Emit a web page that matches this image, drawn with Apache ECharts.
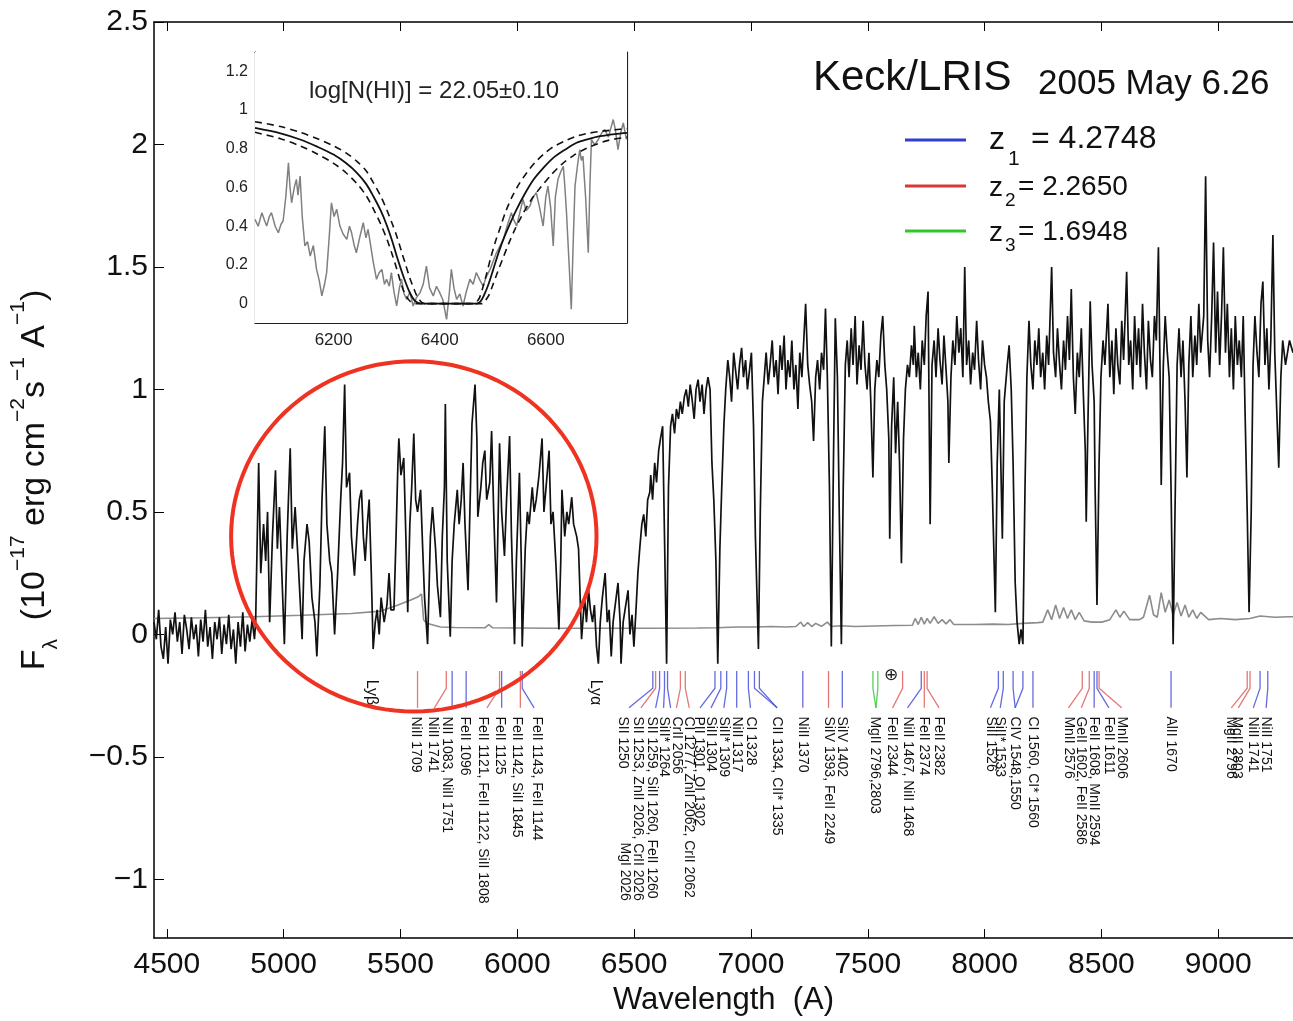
<!DOCTYPE html>
<html>
<head>
<meta charset="utf-8">
<title>Keck/LRIS spectrum</title>
<script src="https://cdn.jsdelivr.net/npm/echarts@6.0.0/dist/echarts.min.js"></script>
<style>
  html, body { margin: 0; padding: 0; background: #fff; }
  #chart { width: 1293px; height: 1021px; }
</style>
</head>
<body>
<div id="chart"></div>
<script>
// ---- axis ticks ----
const xTicks = [4500, 5000, 5500, 6000, 6500, 7000, 7500, 8000, 8500, 9000];
const yTicks = [-1, -0.5, 0, 0.5, 1, 1.5, 2, 2.5];
const insetXTicks = [6200, 6400, 6600];
const insetYTicks = [0, 0.2, 0.4, 0.6, 0.8, 1, 1.2];

// ---- main spectrum [wavelength A, flux] ----
const spectrum = [
  [4445,0.05],[4455,-0.02],[4465,0.10],[4475,-0.05],[4485,-0.10],[4495,0.03],[4505,-0.12],[4515,0.06],
  [4525,0.00],[4535,0.09],[4545,-0.03],[4555,0.05],[4565,-0.08],[4575,0.08],[4585,0.02],[4595,-0.06],
  [4605,0.07],[4615,-0.02],[4625,0.04],[4635,-0.09],[4645,0.06],[4655,-0.03],[4665,0.10],[4675,-0.05],
  [4685,0.03],[4695,-0.10],[4705,0.05],[4715,-0.02],[4725,0.07],[4735,-0.08],[4745,0.04],[4755,-0.04],
  [4765,0.08],[4775,-0.06],[4785,0.02],[4795,-0.12],[4805,0.05],[4815,-0.05],[4825,0.09],[4835,-0.07],
  [4845,0.04],[4855,-0.03],[4865,0.06],[4875,-0.02],
  [4880,0.05],[4893,0.70],[4902,0.25],[4914,0.45],[4923,0.30],[4931,0.50],[4940,0.05],[4952,0.40],
  [4965,0.67],[4973,0.35],[4982,0.52],[4994,0.20],[5003,-0.04],[5015,0.40],[5028,0.76],[5037,0.35],
  [5049,0.52],[5062,0.30],[5070,0.15],[5079,-0.02],[5087,0.30],[5100,0.45],[5109,0.38],[5121,0.15],
  [5134,0.05],[5142,-0.09],[5155,0.20],[5164,0.55],[5176,0.85],[5185,0.45],[5197,0.30],[5206,0.25],
  [5218,0.00],[5231,0.25],[5244,0.55],[5252,0.70],[5261,1.02],[5269,0.60],[5282,0.66],[5290,0.40],
  [5303,0.24],[5316,0.45],[5324,0.55],[5333,0.59],[5341,0.40],[5349,0.30],[5358,0.45],[5366,0.55],
  [5375,0.25],[5383,-0.06],[5392,0.05],[5400,0.10],[5409,0.00],[5417,0.15],[5430,0.05],[5442,0.12],
  [5451,0.25],[5459,0.10],[5472,0.10],[5481,0.40],[5489,0.70],[5493,0.80],[5502,0.65],[5514,0.72],
  [5523,0.40],[5531,0.09],[5540,0.45],[5548,0.60],[5557,0.82],[5565,0.55],[5573,0.50],[5586,0.59],
  [5595,0.35],[5603,0.15],[5616,-0.04],[5628,0.40],[5637,0.52],[5650,0.35],[5658,0.20],[5671,0.07],
  [5679,0.40],[5688,0.60],[5692,0.94],[5700,0.30],[5713,-0.01],[5721,0.30],[5730,0.45],[5743,0.59],
  [5751,0.45],[5760,0.55],[5768,0.70],[5776,0.45],[5789,0.18],[5797,0.50],[5806,0.86],[5819,1.02],
  [5827,0.80],[5831,0.48],[5844,0.60],[5852,0.70],[5861,0.75],[5869,0.55],[5882,0.62],[5890,0.83],
  [5899,0.50],[5911,0.13],[5924,0.78],[5933,0.50],[5945,0.32],[5954,0.55],[5967,0.81],[5975,0.40],
  [5988,-0.04],[5996,0.30],[6009,0.66],[6017,0.30],[6021,-0.05],[6034,0.35],[6043,0.50],[6051,0.45],
  [6064,0.60],[6072,0.50],[6081,0.55],[6093,0.65],[6106,0.80],[6114,0.50],[6123,0.60],[6136,0.75],
  [6144,0.45],[6153,0.50],[6165,0.29],[6178,0.02],[6186,0.30],[6191,0.59],[6203,0.40],[6212,0.50],
  [6220,0.45],[6233,0.56],[6241,0.45],[6254,0.40],[6262,0.35],[6275,-0.02],[6288,0.15],[6296,0.05],
  [6305,0.18],[6313,0.10],[6322,0.05],[6330,0.12],[6339,-0.05],[6347,-0.12],[6355,0.05],[6364,0.15],
  [6376,0.25],[6385,0.05],[6393,0.10],[6402,-0.09],[6410,0.05],[6423,0.15],[6431,0.21],[6440,0.05],
  [6444,-0.12],[6453,0.05],[6461,0.10],[6474,0.18],[6482,0.00],[6491,0.08],[6499,-0.05],[6508,0.10],
  [6516,0.25],[6524,0.35],[6533,0.45],[6541,0.49],[6550,0.40],[6558,0.55],[6567,0.58],[6571,0.65],
  [6579,0.55],[6588,0.70],[6596,0.62],[6605,0.75],[6613,0.80],[6622,0.85],[6630,0.40],[6639,-0.12],
  [6647,0.60],[6656,0.85],[6664,0.90],[6673,0.82],[6681,0.92],[6690,0.88],[6698,0.95],[6706,0.90],
  [6715,0.97],[6723,1.00],[6732,0.93],[6740,1.02],[6748,0.96],[6757,0.88],[6765,1.00],[6774,1.04],
  [6782,0.95],[6791,1.02],[6799,0.90],[6808,1.00],[6816,1.05],[6825,1.00],[6833,0.70],[6841,0.55],
  [6850,0.30],[6858,-0.12],[6867,0.35],[6875,0.60],[6884,0.85],[6892,1.00],[6901,1.12],[6909,1.05],
  [6917,0.95],[6926,1.15],[6934,1.08],[6943,1.00],[6951,1.10],[6960,1.17],[6968,1.05],[6977,1.12],
  [6985,1.00],[6994,1.08],[7002,1.15],[7011,0.85],[7019,0.40],[7032,-0.06],[7040,0.50],[7049,0.95],
  [7057,1.05],[7065,1.15],[7074,1.02],[7082,1.10],[7091,1.20],[7099,1.05],[7108,1.12],[7116,0.98],
  [7125,1.18],[7133,1.08],[7142,1.22],[7150,1.00],[7158,1.12],[7167,1.05],[7175,1.20],[7184,1.00],
  [7192,1.10],[7201,0.92],[7209,1.15],[7218,1.05],[7226,1.20],[7234,1.35],[7243,1.10],[7251,1.02],
  [7260,0.95],[7268,0.79],[7277,1.05],[7285,1.12],[7294,1.00],[7302,1.15],[7311,1.08],[7319,1.33],
  [7327,1.05],[7336,0.60],[7344,-0.05],[7353,0.70],[7361,1.29],[7370,1.05],[7378,0.50],[7387,-0.04],
  [7395,0.60],[7404,1.10],[7412,1.20],[7420,1.05],[7429,1.25],[7437,1.10],[7446,1.30],[7454,1.02],
  [7463,1.18],[7471,1.08],[7480,1.28],[7488,1.10],[7497,1.00],[7505,1.15],[7513,0.95],[7522,0.64],
  [7530,1.00],[7539,1.12],[7547,1.05],[7556,1.22],[7564,1.30],[7573,1.10],[7581,1.00],[7590,0.80],
  [7594,0.39],[7602,0.85],[7611,1.05],[7619,0.74],[7628,0.95],[7636,0.70],[7644,0.29],[7653,0.80],
  [7661,1.00],[7670,1.10],[7678,1.05],[7687,1.18],[7695,1.10],[7699,1.26],[7708,1.05],[7716,1.15],
  [7725,1.00],[7733,1.20],[7742,1.10],[7750,1.30],[7758,1.40],[7767,0.45],[7775,1.10],[7784,1.20],
  [7792,1.05],[7801,1.25],[7809,1.12],[7818,1.02],[7826,1.22],[7835,1.08],[7843,0.95],[7847,0.70],
  [7856,1.05],[7864,1.20],[7873,1.10],[7881,1.30],[7890,1.15],[7898,1.25],[7907,1.05],[7915,1.50],
  [7923,1.10],[7932,1.20],[7940,1.02],[7949,1.15],[7957,1.08],[7966,1.28],[7974,1.12],[7983,1.00],
  [7991,1.20],[8000,1.10],[8008,1.05],[8016,0.95],[8025,0.87],[8033,0.60],[8046,0.09],[8054,0.70],
  [8063,1.00],[8076,0.39],[8084,0.95],[8097,1.10],[8105,1.18],[8114,1.00],[8122,0.70],[8131,0.21],
  [8139,0.05],[8148,-0.04],[8156,0.02],[8164,-0.04],[8173,0.60],[8181,1.05],[8190,1.28],[8198,1.10],
  [8207,1.00],[8215,1.20],[8224,1.10],[8232,1.25],[8240,1.05],[8249,1.15],[8257,1.00],[8266,1.22],
  [8274,1.10],[8287,1.50],[8295,1.15],[8304,1.05],[8312,1.25],[8321,1.10],[8329,1.00],[8338,1.20],
  [8346,1.08],[8355,1.30],[8363,1.12],[8371,1.41],[8380,1.05],[8388,0.90],[8397,1.15],[8405,1.05],
  [8414,1.25],[8422,1.00],[8431,0.75],[8435,0.46],[8443,0.90],[8452,1.36],[8460,1.10],[8469,0.95],
  [8473,0.60],[8481,0.12],[8490,0.70],[8498,1.05],[8507,1.20],[8515,1.10],[8528,1.35],[8536,1.05],
  [8545,1.20],[8553,0.98],[8562,1.25],[8570,1.10],[8579,1.02],[8587,1.28],[8595,1.12],[8608,1.48],
  [8617,1.10],[8625,1.20],[8634,1.00],[8642,1.30],[8651,1.10],[8659,1.25],[8667,1.05],[8676,1.35],
  [8684,1.15],[8693,1.00],[8701,1.28],[8710,1.12],[8718,1.05],[8727,1.30],[8735,1.20],[8744,1.58],
  [8752,1.00],[8756,0.61],[8765,1.10],[8773,1.30],[8782,1.15],[8790,1.05],[8798,0.60],[8807,-0.04],
  [8815,0.50],[8824,1.10],[8832,1.25],[8841,1.05],[8849,1.20],[8858,0.95],[8866,0.64],[8874,1.10],
  [8883,1.30],[8891,1.05],[8900,1.22],[8908,1.10],[8917,1.35],[8925,1.15],[8938,1.30],[8946,1.87],
  [8955,1.20],[8963,1.05],[8972,1.30],[8980,1.60],[8989,1.15],[8997,1.40],[9006,1.10],[9014,1.30],
  [9022,1.58],[9031,1.15],[9039,1.35],[9048,1.05],[9056,1.25],[9065,1.00],[9073,1.30],[9082,1.10],
  [9090,1.20],[9099,1.05],[9107,1.30],[9115,0.90],[9124,0.50],[9132,0.09],[9141,0.49],[9149,1.10],
  [9157,1.30],[9166,1.15],[9174,1.05],[9183,1.35],[9191,1.44],[9200,1.10],[9208,1.25],[9217,1.00],
  [9225,1.20],[9234,1.63],[9242,1.15],[9251,0.90],[9259,0.68],[9268,1.05],[9276,1.20],[9288,1.10],
  [9305,1.20],[9320,1.15]
];

// ---- error spectrum (grey) ----
const errorSpec = [
  [4445,0.065],[4656,0.068],[4868,0.072],[5079,0.078],[5290,0.085],[5417,0.095],[5489,0.12],[5544,0.14],
  [5578,0.155],[5590,0.165],[5599,0.06],[5612,0.045],[5671,0.03],[5734,0.028],[5861,0.027],[5878,0.04],
  [5895,0.027],[6136,0.025],[6347,0.025],[6558,0.025],[6770,0.026],[6854,0.027],[6939,0.03],[7023,0.03],
  [7087,0.032],[7150,0.03],[7192,0.032],[7213,0.05],[7226,0.032],[7243,0.048],[7260,0.032],[7277,0.045],
  [7302,0.033],[7327,0.05],[7344,0.032],[7383,0.035],[7446,0.032],[7530,0.034],[7615,0.036],[7691,0.037],
  [7703,0.065],[7716,0.04],[7729,0.07],[7742,0.042],[7754,0.065],[7767,0.045],[7784,0.072],[7801,0.045],
  [7818,0.06],[7835,0.043],[7852,0.06],[7868,0.04],[7953,0.04],[8038,0.042],[8101,0.04],[8164,0.045],
  [8228,0.048],[8249,0.05],[8270,0.10],[8287,0.06],[8304,0.12],[8321,0.065],[8338,0.11],[8355,0.065],
  [8371,0.10],[8388,0.06],[8405,0.09],[8426,0.055],[8460,0.05],[8502,0.05],[8536,0.06],[8562,0.10],
  [8579,0.07],[8596,0.095],[8621,0.06],[8663,0.06],[8680,0.07],[8706,0.16],[8723,0.08],[8739,0.07],
  [8756,0.17],[8773,0.09],[8790,0.14],[8807,0.08],[8824,0.13],[8841,0.075],[8858,0.12],[8874,0.07],
  [8891,0.10],[8908,0.065],[8925,0.09],[8959,0.06],[9010,0.065],[9073,0.06],[9136,0.065],[9179,0.075],
  [9242,0.07],[9305,0.072],[9320,0.072]
];

// ---- absorption line markers: top wavelength, end wavelength, colour ----
const markTop = [5573,5696,5721,5781,5924,5933,6013,6021,
  6580,6592,6609,6630,6643,6698,6719,6846,6871,6896,6939,6989,7015,7036,
  7222,7332,7391,7522,7543,7649,7729,7742,7754,
  8059,8080,8122,8164,8207,
  8418,8448,8469,8481,8490,
  8798,
  9124,9136,9179,9212];
const markEnd = [5573,5645,5721,5781,5870,5933,6013,6072,
  6478,6529,6592,6626,6656,6681,6736,6782,6829,6884,6939,6998,7112,7112,
  7222,7332,7391,7535,7535,7606,7670,7742,7805,
  8025,8067,8131,8131,8207,
  8359,8414,8469,8532,8587,
  8798,
  9056,9086,9150,9205];
const markColor = ['r','r','b','b','r','b','r','b',
  'b','r','b','b','b','r','r','b','b','b','b','b','b','b',
  'b','r','b','g','g','r','b','r','r',
  'b','b','b','b','b',
  'r','r','b','b','r',
  'b',
  'r','r','b','b'];

// ---- line identifications ----
const markLabelWave = [5565,5637,5700,5776,5852,5924,6000,6085,
  6453,6516,6575,6626,6681,6736,6778,6829,6884,6939,6998,7112,
  7222,7332,7391,7530,7602,7670,7742,7805,
  8025,8067,8131,8207,
  8359,8414,8469,8532,8587,
  8798,
  9052,9081,9150,9205];
const markLabelText = ['NiII 1709','NiII 1741','NII 1083, NiII 1751','FeII 1096',
  'FeII 1121, FeII 1122, SiII 1808','FeII 1125','FeII 1142, SiII 1845','FeII 1143, FeII 1144',
  'SII 1250','SII 1253, ZnII 2026, CrII 2026\nMgI 2026','SII 1259, SiII 1260, FeII 1260','SiII* 1264',
  'CrII 2056','CI 1277, ZnII 2062, CrII 2062','PII 1301, OI 1302','SiII 1304','SiII* 1309',
  'NiII 1317','CI 1328','CII 1334, CII* 1335',
  'NiII 1370','SiIV 1393, FeII 2249','SiIV 1402','MgII 2796,2803','FeII 2344',
  'NiII 1467, NiII 1468','FeII 2374','FeII 2382',
  'SiII 1526','SiII* 1533','CIV 1548,1550','CI 1560, CI* 1560',
  'MnII 2576','GeII 1602, FeII 2586','FeII 1608, MnII 2594','FeII 1611','MnII 2606',
  'AlII 1670',
  'MgII 2796','MgII 2803','NiII 1741','NiII 1751'];
const lyWave = [5375, 6334];
const lyText = ['Lyβ', 'Lyα'];
const earthWave = [7600];

// ---- inset: normalised spectrum and Voigt fits ----
const insetSpec = [
  [6052,0.435],[6058,0.40],[6065,0.470],[6070,0.43],[6074,0.401],[6079,0.45],[6083,0.470],[6090,0.40],
  [6096,0.366],[6101,0.41],[6105,0.427],[6110,0.55],[6115,0.728],[6118,0.60],[6121,0.521],[6126,0.60],
  [6130,0.642],[6133,0.56],[6137,0.659],[6141,0.45],[6146,0.298],[6151,0.32],[6156,0.246],[6162,0.30],
  [6168,0.177],[6173,0.12],[6178,0.040],[6183,0.10],[6187,0.160],[6192,0.35],[6196,0.521],[6201,0.45],
  [6206,0.487],[6212,0.401],[6218,0.36],[6225,0.332],[6230,0.40],[6234,0.366],[6239,0.30],[6243,0.263],
  [6250,0.35],[6256,0.418],[6261,0.34],[6265,0.384],[6270,0.30],[6275,0.212],[6281,0.126],[6286,0.16],
  [6291,0.177],[6296,0.10],[6300,0.126],[6305,0.09],[6309,0.160],[6314,0.06],[6319,-0.012],[6324,0.08],
  [6328,0.126],[6333,0.05],[6338,0.022],[6344,0.06],[6350,-0.012],[6356,0.03],[6363,0.057],[6369,0.10],
  [6375,0.194],[6381,0.08],[6388,0.040],[6394,0.09],[6400,0.057],[6406,0.02],[6413,-0.081],[6418,0.05],
  [6422,0.177],[6427,0.08],[6432,0.022],[6438,0.05],[6444,-0.012],[6450,0.06],[6457,0.126],[6463,0.10],
  [6469,0.160],[6476,0.12],[6482,0.091],[6488,0.14],[6495,0.177],[6501,0.22],[6507,0.263],[6514,0.30],
  [6520,0.332],[6527,0.40],[6535,0.470],[6540,0.43],[6545,0.401],[6551,0.47],[6557,0.538],[6563,0.48],
  [6570,0.504],[6576,0.55],[6582,0.573],[6588,0.50],[6595,0.401],[6600,0.55],[6604,0.607],[6609,0.50],
  [6614,0.298],[6618,0.55],[6623,0.642],[6628,0.68],[6633,0.710],[6636,0.60],[6639,0.470],[6644,0.20],
  [6648,-0.029],[6652,0.35],[6655,0.607],[6660,0.72],[6664,0.796],[6667,0.74],[6670,0.762],[6675,0.55],
  [6680,0.263],[6683,0.60],[6686,0.848],[6692,0.82],[6699,0.848],[6705,0.88],[6711,0.900],[6718,0.86],
  [6727,0.951],[6731,0.90],[6736,0.796],[6741,0.88],[6746,0.934],[6752,0.848]
];
const fitSolid = [
  [6052,0.908],[6100,0.88],[6137,0.848],[6170,0.81],[6200,0.770],[6224,0.725],[6244,0.676],[6261,0.62],
  [6275,0.555],[6289,0.48],[6301,0.40],[6311,0.32],[6319,0.246],[6328,0.17],[6336,0.108],[6344,0.055],
  [6351,0.022],[6358,0.006],[6367,0],[6470,0],[6477,0.012],[6483,0.04],[6492,0.10],[6501,0.177],
  [6510,0.255],[6520,0.332],[6532,0.41],[6545,0.487],[6560,0.565],[6577,0.641],[6595,0.70],[6614,0.753],
  [6636,0.795],[6658,0.831],[6680,0.85],[6702,0.865],[6730,0.876],[6753,0.882]
];
const fitLow = [
  [6052,0.94],[6100,0.915],[6137,0.885],[6170,0.852],[6200,0.815],[6224,0.778],[6244,0.735],[6261,0.688],
  [6275,0.625],[6289,0.555],[6301,0.48],[6311,0.41],[6319,0.35],[6328,0.27],[6336,0.20],[6344,0.13],
  [6351,0.08],[6357,0.04],[6362,0.02],[6367,0.005],[6372,0],[6465,0],[6470,0.01],[6475,0.03],
  [6481,0.08],[6488,0.15],[6496,0.235],[6505,0.32],[6515,0.40],[6525,0.48],[6537,0.555],[6550,0.62],
  [6565,0.68],[6580,0.73],[6597,0.775],[6614,0.81],[6636,0.84],[6658,0.865],[6680,0.88],[6702,0.89],
  [6730,0.898],[6753,0.905]
];
const fitHigh = [
  [6052,0.885],[6100,0.852],[6137,0.815],[6170,0.772],[6200,0.725],[6224,0.675],[6244,0.62],[6261,0.56],
  [6275,0.49],[6289,0.41],[6301,0.33],[6311,0.25],[6319,0.18],[6326,0.115],[6333,0.06],[6339,0.03],
  [6345,0.01],[6350,0.002],[6355,0],[6480,0],[6485,0.012],[6492,0.04],[6500,0.095],[6510,0.17],
  [6520,0.24],[6530,0.31],[6542,0.385],[6556,0.46],[6572,0.535],[6590,0.60],[6610,0.665],[6630,0.72],
  [6652,0.765],[6675,0.80],[6697,0.825],[6720,0.845],[6753,0.86]
];

// ---- highlighted region (ellipse in data units) ----
const circleCenter = [5557, 0.40];
const circleRadius = [782, 0.715];

const FONT = '"Liberation Sans", Arial, Helvetica, sans-serif';
const LABEL_FONT = '14px ' + FONT;
const lineColors = { b: '#3c46d8', r: '#e05555', g: '#2fc42f' };

// y positions (data units) of the marker row under the spectrum
const markTopY = -0.15, markBendY = -0.22, markEndY = -0.30, labelTopY = -0.335, lyTopY = -0.185, earthY = -0.17;

const measureCtx = document.createElement('canvas').getContext('2d');
measureCtx.font = LABEL_FONT;

const minusFmt = v => (v < 0 ? '\u2212' + (-v) : String(v));
const plainFmt = v => String(v);

const chartInstance = echarts.init(document.getElementById('chart'));

const option = {
  animation: false,
  backgroundColor: '#fff',
  grid: [
    { left: 150, top: 22, right: -10, bottom: 78 },
    { left: 255, top: 52, width: 372, height: 271, show: true, backgroundColor: '#fff', borderWidth: 0, z: 3 }
  ],
  xAxis: [
    {
      type: 'value', gridIndex: 0, min: 4445, max: 9320, position: 'bottom',
      name: 'Wavelength  (A)', nameLocation: 'middle', nameGap: 46,
      nameTextStyle: { fontFamily: FONT, fontSize: 31, color: '#111' },
      axisLine: { onZero: false, lineStyle: { color: '#000', width: 1.5 } },
      axisTick: { inside: true, length: 9, customValues: xTicks, lineStyle: { color: '#000' } },
      axisLabel: { customValues: xTicks, formatter: plainFmt, fontFamily: FONT, fontSize: 30, color: '#111', margin: 12 },
      splitLine: { show: false }
    },
    {
      type: 'value', gridIndex: 0, min: 4445, max: 9320, position: 'top',
      axisLine: { onZero: false, lineStyle: { color: '#000', width: 1.5 } },
      axisTick: { inside: true, length: 9, customValues: xTicks, lineStyle: { color: '#000' } },
      axisLabel: { show: false },
      splitLine: { show: false }
    },
    {
      type: 'value', gridIndex: 1, min: 6052, max: 6753, position: 'bottom',
      axisLine: { onZero: false, lineStyle: { color: '#222', width: 1.2 } },
      axisTick: { inside: true, length: 6, customValues: insetXTicks, lineStyle: { color: '#222' } },
      axisLabel: { customValues: insetXTicks, formatter: plainFmt, fontFamily: FONT, fontSize: 17, color: '#222', margin: 9 },
      splitLine: { show: false }
    },
    {
      type: 'value', gridIndex: 1, min: 6052, max: 6753, position: 'top',
      axisLine: { onZero: false, lineStyle: { color: '#222', width: 1.2 } },
      axisTick: { inside: true, length: 6, customValues: insetXTicks, lineStyle: { color: '#222' } },
      axisLabel: { show: false },
      splitLine: { show: false }
    }
  ],
  yAxis: [
    {
      type: 'value', gridIndex: 0, min: -1.24, max: 2.5, position: 'left',
      name: '{m|F}{sub|λ}{m|  (10}{sup|\u221217}{m| erg cm}{sup|\u22122}{m|s}{sup|\u22121}{m| A}{sup|\u22121}{m|)}',
      nameLocation: 'middle', nameRotate: 90, nameGap: 92,
      nameTextStyle: {
        fontFamily: FONT, fontSize: 34, color: '#111',
        rich: {
          m: { fontFamily: FONT, fontSize: 34, lineHeight: 54, verticalAlign: 'middle', color: '#111' },
          sup: { fontFamily: FONT, fontSize: 21, lineHeight: 54, verticalAlign: 'top', color: '#111' },
          sub: { fontFamily: FONT, fontSize: 21, lineHeight: 54, verticalAlign: 'bottom', color: '#111' }
        }
      },
      axisLine: { onZero: false, lineStyle: { color: '#000', width: 1.5 } },
      axisTick: { inside: true, length: 10, customValues: yTicks, lineStyle: { color: '#000' } },
      axisLabel: { customValues: yTicks, formatter: minusFmt, fontFamily: FONT, fontSize: 30, color: '#111', margin: 6 },
      splitLine: { show: false }
    },
    {
      type: 'value', gridIndex: 1, min: -0.1, max: 1.3, position: 'left',
      axisLine: { onZero: false, lineStyle: { color: '#222', width: 1.2 } },
      axisTick: { inside: true, length: 6, customValues: insetYTicks, lineStyle: { color: '#222' } },
      axisLabel: { customValues: insetYTicks, fontFamily: FONT, fontSize: 16, color: '#222', margin: 7 },
      splitLine: { show: false }
    },
    {
      type: 'value', gridIndex: 1, min: -0.1, max: 1.3, position: 'right',
      axisLine: { onZero: false, lineStyle: { color: '#222', width: 1.2 } },
      axisTick: { inside: true, length: 6, customValues: insetYTicks, lineStyle: { color: '#222' } },
      axisLabel: { show: false },
      splitLine: { show: false }
    }
  ],
  series: [
    {
      // error spectrum
      type: 'line', xAxisIndex: 0, yAxisIndex: 0, data: errorSpec, showSymbol: false,
      lineStyle: { color: '#8c8c8c', width: 1.6 }, z: 2
    },
    {
      // flux
      type: 'line', xAxisIndex: 0, yAxisIndex: 0, data: spectrum, showSymbol: false,
      lineStyle: { color: '#111', width: 1.7 }, z: 3
    },
    {
      // line markers (vertical, bent towards their label)
      type: 'custom', xAxisIndex: 0, yAxisIndex: 0,
      data: markTop.map((w, i) => [w, markEnd[i]]),
      renderItem: (params, api) => {
        const top = api.coord([api.value(0), markTopY]);
        const bend = api.coord([api.value(0), markBendY]);
        const end = api.coord([api.value(1), markEndY]);
        return {
          type: 'polyline',
          shape: { points: [top, bend, end] },
          style: { stroke: lineColors[markColor[params.dataIndex]], lineWidth: 1.3, fill: 'none', opacity: 0.8 }
        };
      },
      z: 4
    },
    {
      // line identifications, rotated text
      type: 'custom', xAxisIndex: 0, yAxisIndex: 0,
      data: markLabelWave.map(w => [w, labelTopY]),
      renderItem: (params, api) => {
        const p = api.coord([api.value(0), api.value(1)]);
        const lines = markLabelText[params.dataIndex].split('\n');
        const children = [{
          type: 'text', x: p[0], y: p[1], rotation: -Math.PI / 2,
          style: { text: lines[0], font: LABEL_FONT, fill: '#111', align: 'left', verticalAlign: 'middle' }
        }];
        if (lines[1]) {
          // second line sits to the left, right-aligned with the first
          const shift = measureCtx.measureText(lines[0]).width - measureCtx.measureText(lines[1]).width;
          children.push({
            type: 'text', x: p[0] - 13, y: p[1] + shift, rotation: -Math.PI / 2,
            style: { text: lines[1], font: LABEL_FONT, fill: '#111', align: 'left', verticalAlign: 'middle' }
          });
        }
        return { type: 'group', children: children };
      },
      z: 4
    },
    {
      // Ly beta / Ly alpha
      type: 'custom', xAxisIndex: 0, yAxisIndex: 0,
      data: lyWave.map(w => [w, lyTopY]),
      renderItem: (params, api) => {
        const p = api.coord([api.value(0), api.value(1)]);
        return {
          type: 'text', x: p[0], y: p[1], rotation: -Math.PI / 2,
          style: { text: lyText[params.dataIndex], font: '16px ' + FONT, fill: '#111', align: 'left', verticalAlign: 'middle' }
        };
      },
      z: 4
    },
    {
      // telluric band symbol
      type: 'custom', xAxisIndex: 0, yAxisIndex: 0,
      data: earthWave.map(w => [w, earthY]),
      renderItem: (params, api) => {
        const p = api.coord([api.value(0), api.value(1)]);
        return {
          type: 'text', x: p[0], y: p[1],
          style: { text: '\u2295', font: '17px "DejaVu Sans", sans-serif', fill: '#222', align: 'center', verticalAlign: 'middle' }
        };
      },
      z: 4
    },
    {
      // red highlight ellipse
      type: 'custom', xAxisIndex: 0, yAxisIndex: 0,
      data: [circleCenter],
      renderItem: (params, api) => {
        const c = api.coord([api.value(0), api.value(1)]);
        const s = api.size([circleRadius[0], circleRadius[1]]);
        const pts = [];
        for (let k = 0; k < 120; k++) {
          const t = k / 120 * Math.PI * 2;
          pts.push([c[0] + s[0] * Math.cos(t), c[1] + s[1] * Math.sin(t)]);
        }
        return { type: 'polygon', shape: { points: pts }, style: { stroke: '#ee3322', lineWidth: 4, fill: 'none' } };
      },
      z: 10
    },
    {
      type: 'line', xAxisIndex: 2, yAxisIndex: 1, data: insetSpec, showSymbol: false,
      lineStyle: { color: '#808080', width: 1.5 }, z: 5
    },
    {
      type: 'line', xAxisIndex: 2, yAxisIndex: 1, data: fitLow, showSymbol: false, smooth: 0.3,
      lineStyle: { color: '#111', width: 1.6, type: [7, 5] }, z: 6
    },
    {
      type: 'line', xAxisIndex: 2, yAxisIndex: 1, data: fitHigh, showSymbol: false, smooth: 0.3,
      lineStyle: { color: '#111', width: 1.6, type: [7, 5] }, z: 6
    },
    {
      type: 'line', xAxisIndex: 2, yAxisIndex: 1, data: fitSolid, showSymbol: false, smooth: 0.3,
      lineStyle: { color: '#111', width: 1.8 }, z: 6
    }
  ],
  graphic: [
    // inset annotation
    { type: 'text', x: 434, y: 91, z: 20, style: { text: 'log[N(HI)] = 22.05\u00b10.10', font: '24px ' + FONT, fill: '#222', align: 'center', verticalAlign: 'middle' } },
    // title
    { type: 'text', x: 813, y: 78, z: 20, style: { text: 'Keck/LRIS', font: '42px ' + FONT, fill: '#111', verticalAlign: 'middle' } },
    { type: 'text', x: 1038, y: 84, z: 20, style: { text: '2005 May 6.26', font: '35px ' + FONT, fill: '#111', verticalAlign: 'middle' } },
    // legend
    { type: 'line', z: 20, shape: { x1: 905, y1: 140, x2: 966, y2: 140 }, style: { stroke: '#2f3fd0', lineWidth: 3 } },
    { type: 'line', z: 20, shape: { x1: 905, y1: 186, x2: 966, y2: 186 }, style: { stroke: '#d8383a', lineWidth: 3 } },
    { type: 'line', z: 20, shape: { x1: 905, y1: 231, x2: 966, y2: 231 }, style: { stroke: '#2ec82e', lineWidth: 3 } },
    { type: 'text', x: 989, y: 140, z: 20, style: { text: 'z', font: '32px ' + FONT, fill: '#111', verticalAlign: 'middle' } },
    { type: 'text', x: 1008, y: 159, z: 20, style: { text: '1', font: '21px ' + FONT, fill: '#111', verticalAlign: 'middle' } },
    { type: 'text', x: 1031, y: 139, z: 20, style: { text: '= 4.2748', font: '32px ' + FONT, fill: '#111', verticalAlign: 'middle' } },
    { type: 'text', x: 989, y: 188, z: 20, style: { text: 'z', font: '28px ' + FONT, fill: '#111', verticalAlign: 'middle' } },
    { type: 'text', x: 1005, y: 201, z: 20, style: { text: '2', font: '19px ' + FONT, fill: '#111', verticalAlign: 'middle' } },
    { type: 'text', x: 1018, y: 187, z: 20, style: { text: '= 2.2650', font: '28px ' + FONT, fill: '#111', verticalAlign: 'middle' } },
    { type: 'text', x: 989, y: 233, z: 20, style: { text: 'z', font: '28px ' + FONT, fill: '#111', verticalAlign: 'middle' } },
    { type: 'text', x: 1005, y: 246, z: 20, style: { text: '3', font: '19px ' + FONT, fill: '#111', verticalAlign: 'middle' } },
    { type: 'text', x: 1018, y: 232, z: 20, style: { text: '= 1.6948', font: '28px ' + FONT, fill: '#111', verticalAlign: 'middle' } }
  ]
};

chartInstance.setOption(option);
</script>
</body>
</html>
